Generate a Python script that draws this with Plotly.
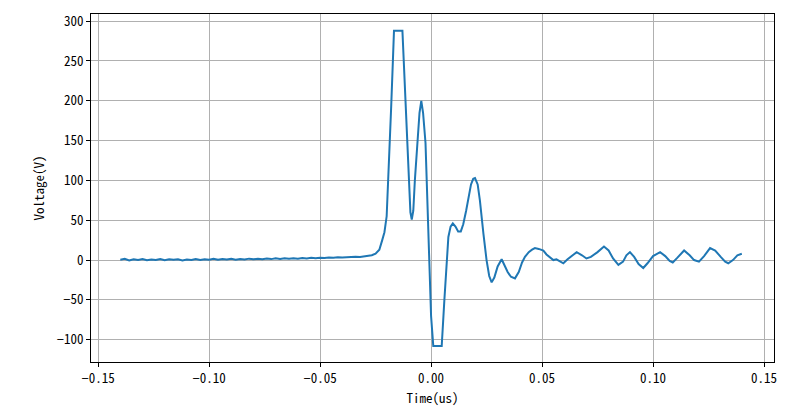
import plotly.graph_objects as go

# Baseline segment (hand-read, small noise), time in us, voltage in V
base_time = [-0.140, -0.138, -0.136, -0.134, -0.132, -0.130, -0.128, -0.126, -0.124, -0.122,
             -0.120, -0.118, -0.116, -0.114, -0.112, -0.110, -0.108, -0.106, -0.104, -0.102,
             -0.100, -0.098, -0.096, -0.094, -0.092, -0.090, -0.088, -0.086, -0.084, -0.082,
             -0.080, -0.078, -0.076, -0.074, -0.072, -0.070, -0.068, -0.066, -0.064, -0.062,
             -0.060, -0.058, -0.056, -0.054, -0.052, -0.050, -0.048, -0.046, -0.044, -0.042,
             -0.040, -0.038, -0.036, -0.034, -0.032, -0.030]
base_volt = [0.5, 1.5, -0.5, 1.0, 0.0, 1.2, -0.3, 0.8, 0.2, 1.3,
             -0.2, 0.9, 0.3, 1.1, -0.4, 0.7, 0.1, 1.4, 0.2, 1.0,
             0.4, 1.6, 0.3, 1.2, 0.6, 1.5, 0.5, 1.3, 0.8, 1.8,
             0.9, 1.7, 1.0, 2.0, 1.2, 2.2, 1.5, 2.4, 1.6, 2.3,
             1.8, 2.6, 2.0, 2.8, 2.2, 3.0, 2.6, 3.3, 3.0, 3.6,
             3.2, 3.8, 3.5, 4.2, 4.0, 4.6]

# Pulse and ringing segment
pulse_time = [-0.0280, -0.0267, -0.0250, -0.0233, -0.0220, -0.0210, -0.0200, -0.0190, -0.0180,
              -0.0172, -0.0167, -0.0129, -0.0120, -0.0110, -0.0100, -0.0093, -0.0087, -0.0080,
              -0.0073, -0.0061, -0.0052, -0.0044, -0.0036, -0.0025, -0.0015, -0.0008, 0.0000,
              0.0010, 0.0048, 0.0060, 0.0071, 0.0078, 0.0088, 0.0098, 0.0110, 0.0122, 0.0134,
              0.0145, 0.0158, 0.0168, 0.0180, 0.0190, 0.0198, 0.0210, 0.0220, 0.0236, 0.0250,
              0.0262, 0.0273, 0.0285, 0.0300, 0.0318, 0.0330, 0.0345, 0.0360, 0.0378, 0.0395,
              0.0410, 0.0423, 0.0440, 0.0455, 0.0468, 0.0485, 0.0506, 0.0520, 0.0535, 0.0551,
              0.0565, 0.0580, 0.0596, 0.0615, 0.0635, 0.0656, 0.0680, 0.0700, 0.0720, 0.0750,
              0.0779, 0.0800, 0.0820, 0.0844, 0.0865, 0.0880, 0.0896, 0.0915, 0.0935, 0.0956,
              0.0975, 0.1000, 0.1032, 0.1055, 0.1075, 0.1089, 0.1110, 0.1140, 0.1165, 0.1185,
              0.1207, 0.1230, 0.1257, 0.1280, 0.1305, 0.1325, 0.1339, 0.1360, 0.1380, 0.1400]
pulse_volt = [5, 6, 8, 13, 25, 35, 55, 115, 190,
              250, 288, 288, 230, 150, 90, 60, 51, 62,
              100, 147, 185, 200, 185, 147, 70, 0, -70,
              -108, -108, -50, 0, 29, 42, 46, 42, 36, 36,
              45, 62, 78, 95, 102, 103, 95, 75, 33, 0,
              -20, -28, -22, -8, 1, -6, -15, -21, -23, -15,
              -3, 4, 10, 13, 15, 14, 12, 7, 3, 0,
              1, -1, -4, 1, 6, 10, 6, 2, 4, 10,
              17, 12, 2, -6, -2, 6, 10, 4, -5, -10,
              -4, 5, 10, 5, -1, -3, 3, 12, 6, 0,
              -2, 5, 15, 12, 4, -2, -4, 0, 6, 8]

time_us = base_time + pulse_time
voltage_v = base_volt + pulse_volt

x_ticks = [-0.15, -0.10, -0.05, 0.00, 0.05, 0.10, 0.15]
y_ticks = [-100, -50, 0, 50, 100, 150, 200, 250, 300]

FONT = "Noto Sans Mono CJK SC, Liberation Mono, monospace"
FS = 13

fig = go.Figure()
fig.add_trace(go.Scatter(x=time_us, y=voltage_v, mode="lines",
                         line=dict(color="#1f77b4", width=2), showlegend=False))

axis_common = dict(showline=True, linecolor="black", linewidth=1, mirror=True,
                   ticks="outside", ticklen=4, tickcolor="black", tickwidth=1,
                   showgrid=True, gridcolor="#b0b0b0", gridwidth=1, zeroline=False,
                   tickfont=dict(family=FONT, size=FS, color="black"))

fig.update_xaxes(range=[-0.1532, 0.1545], tickvals=x_ticks, tickformat=".2f",
                 title=dict(text="Time(us)", font=dict(family=FONT, size=FS, color="black"), standoff=8),
                 **axis_common)
fig.update_yaxes(range=[-128, 309], tickvals=y_ticks,
                 title=dict(text="Voltage(V)", font=dict(family=FONT, size=FS, color="black"), standoff=9),
                 **axis_common)

# page body has an 8px margin, so the figure is sized and offset to compensate
fig.update_layout(width=784, height=401, margin=dict(l=83, r=18, t=6, b=47, autoexpand=False),
                  paper_bgcolor="white", plot_bgcolor="white")

fig.write_html("out.html")
